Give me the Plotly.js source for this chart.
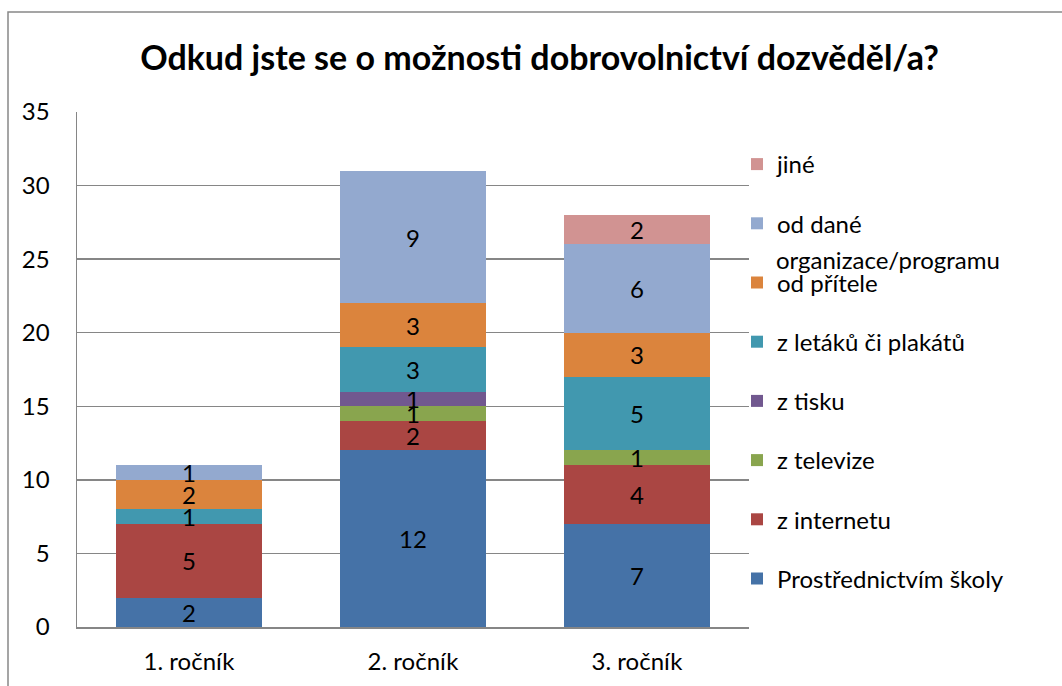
<!DOCTYPE html>
<html>
<head>
<meta charset="utf-8">
<script src="https://cdn.plot.ly/plotly-3.0.1.min.js"></script>
<style>html,body{margin:0;padding:0;background:#fff;}#chart{width:1062px;height:686px;}</style>
</head>
<body>
<div id="chart"></div>
<script>
const categories = ['1. ročník', '2. ročník', '3. ročník'];
const seriesNames = ['Prostřednictvím školy', 'z internetu', 'z televize', 'z tisku', 'z letáků či plakátů', 'od přítele', 'od dané', 'jiné'];
const wrappedNameTail = 'organizace/programu';
const skoly = [2, 12, 7];
const internet = [5, 2, 4];
const televize = [0, 1, 1];
const tisk = [0, 1, 0];
const letaky = [1, 3, 5];
const pritel = [2, 3, 3];
const organizace = [1, 9, 6];
const jine = [0, 0, 2];
const yTicks = [0, 5, 10, 15, 20, 25, 30, 35];
const colors = ['#4572A7', '#AA4643', '#89A54E', '#71588F', '#4198AF', '#DB843D', '#93A9CF', '#D19392'];

const allSeries = [skoly, internet, televize, tisk, letaky, pritel, organizace, jine];
const FONT = 'Lato, "Open Sans", sans-serif';

const traces = allSeries.map((vals, i) => ({
  type: 'bar',
  name: seriesNames[i],
  x: categories,
  y: vals,
  text: vals.map(v => v === 0 ? '' : String(v)),
  texttemplate: '%{text}',
  textposition: 'inside',
  insidetextanchor: 'middle',
  textangle: 0,
  textfont: {family: FONT, size: 24, color: '#000'},
  marker: {color: colors[i], line: {width: 0}},
  legendgroup: 'g' + i,
  legendrank: 100 - i,
  hoverinfo: 'x+y+name'
}));

const L = 77, R = 749, T = 112, B = 627, W = 1062, H = 686;
const pw = R - L, ph = B - T;
const legendTextX = 775;

const layout = {
  width: W, height: H,
  margin: {l: L, r: W - R, t: T, b: H - B, pad: 0},
  paper_bgcolor: '#fff', plot_bgcolor: '#fff',
  barmode: 'stack',
  bargap: 0.35,
  font: {family: FONT, size: 24, color: '#000'},
  uniformtext: {minsize: 24, mode: 'show'},
  title: {text: '<b>Odkud jste se o možnosti dobrovolnictví dozvěděl/a?</b>', font: {family: FONT, size: 34, color: '#000'}, x: 0.508, xanchor: 'center', y: 0.915, yanchor: 'middle'},
  xaxis: {
    type: 'category', showline: true, linecolor: '#868686', linewidth: 1.5,
    ticks: '', ticklabelstandoff: 13, tickfont: {family: FONT, size: 24, color: '#000'},
    showgrid: false, zeroline: false, fixedrange: true
  },
  yaxis: {
    range: [0, 35], tickvals: yTicks, ticktext: yTicks.map(String),
    showline: true, linecolor: '#868686', linewidth: 1.5,
    gridcolor: '#868686', gridwidth: 1.5, zeroline: false,
    ticks: '', ticklabelstandoff: 21, tickfont: {family: FONT, size: 24, color: '#000'}, fixedrange: true
  },
  showlegend: true,
  legend: {
    traceorder: 'grouped', tracegroupgap: 25, valign: 'middle',
    x: (737 - L) / pw, xanchor: 'left', y: (B - 142) / ph, yanchor: 'top',
    font: {family: FONT, size: 24, color: '#000'}, bgcolor: 'rgba(0,0,0,0)',
    itemwidth: 30
  },
  annotations: [{
    xref: 'paper', yref: 'paper', x: (legendTextX - L) / pw, y: (B - 259) / ph,
    xanchor: 'left', yanchor: 'middle', showarrow: false, borderpad: 0,
    text: wrappedNameTail, font: {family: FONT, size: 24, color: '#000'}
  }],
  shapes: [{
    type: 'rect', xref: 'paper', yref: 'paper',
    x0: (8 - L) / pw, x1: (1075 - L) / pw, y0: (B - 700) / ph, y1: (B - 12) / ph,
    line: {color: '#888', width: 1.5}, fillcolor: 'rgba(0,0,0,0)', layer: 'above'
  }]
};

Plotly.newPlot('chart', traces, layout, {displayModeBar: false, staticPlot: true});
</script>
</body>
</html>
